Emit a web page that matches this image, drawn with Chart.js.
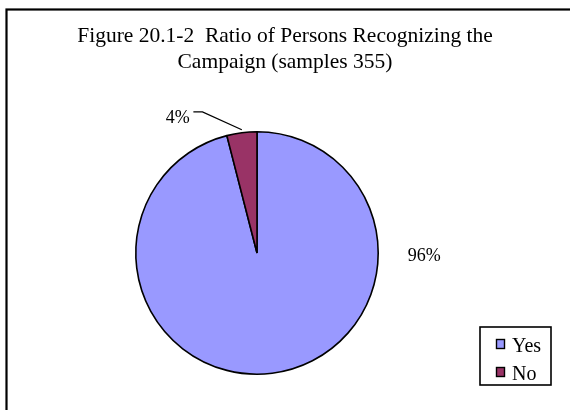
<!DOCTYPE html>
<html>
<head>
<meta charset="utf-8">
<script src="https://cdn.jsdelivr.net/npm/chart.js@4.4.1/dist/chart.umd.min.js"></script>
<style>
    html, body { margin: 0; padding: 0; background: #fff; }
    #wrap { width: 570px; height: 410px; position: relative; }
</style>
</head>
<body>
<div id="wrap"><canvas id="chartRecognize"></canvas></div>
<script>
const titleLines = ["Figure 20.1-2  Ratio of Persons Recognizing the", "Campaign (samples 355)"];
const categories = ["Yes", "No"];
const shares = [96, 4];
const sliceColors = ["#9999FF", "#993366"];

const serif = "'Liberation Serif', 'Times New Roman', serif";

// frame, title, labels and legend drawn like the Excel original
const decorations = {
    id: "decorations",
    beforeDraw(chart) {
        const ctx = chart.ctx;
        ctx.save();
        ctx.fillStyle = "#fff";
        ctx.fillRect(0, 0, chart.width, chart.height);
        ctx.strokeStyle = "#000";
        ctx.lineWidth = 2.2;
        ctx.strokeRect(6.5, 9.5, chart.width + 10, chart.height + 10);
        ctx.restore();
    },
    afterDraw(chart) {
        const ctx = chart.ctx;
        const arcs = chart.getDatasetMeta(0).data;
        const cx = arcs[0].x, cy = arcs[0].y, r = arcs[0].outerRadius;
        ctx.save();
        ctx.fillStyle = "#000";
        ctx.textAlign = "center";
        ctx.textBaseline = "alphabetic";
        ctx.font = "21.5px " + serif;
        ctx.fillText(titleLines[0], chart.width / 2, 42);
        ctx.fillText(titleLines[1], chart.width / 2, 68);

        // data labels
        ctx.font = "18px " + serif;
        ctx.textBaseline = "middle";
        ctx.fillText(shares[0] + "%", cx + 1.38 * r, cy + 0.03 * r);
        ctx.textAlign = "right";
        ctx.fillText(shares[1] + "%", cx - 0.555 * r, cy - 1.11 * r);
        // leader line to the small slice
        const mid = (arcs[1].startAngle + arcs[1].endAngle) / 2;
        ctx.strokeStyle = "#000";
        ctx.lineWidth = 1.3;
        ctx.beginPath();
        ctx.moveTo(cx - 0.525 * r, cy - 1.165 * r);
        ctx.lineTo(cx - 0.45 * r, cy - 1.165 * r);
        ctx.lineTo(cx + Math.cos(mid) * r, cy + Math.sin(mid) * r - 3);
        ctx.stroke();

        // legend
        const lx = 480, ly = 327, lw = 71, lh = 58;
        ctx.lineWidth = 1.6;
        ctx.strokeRect(lx, ly, lw, lh);
        ctx.font = "20px " + serif;
        ctx.textAlign = "left";
        ctx.textBaseline = "middle";
        categories.forEach((name, i) => {
            const y = ly + 17 + i * 28;
            ctx.fillStyle = sliceColors[i];
            ctx.fillRect(lx + 16.5, y - 4.5, 8, 9);
            ctx.strokeStyle = "#000";
            ctx.lineWidth = 1.4;
            ctx.strokeRect(lx + 16.5, y - 4.5, 8, 9);
            ctx.fillStyle = "#000";
            ctx.fillText(name, lx + 32, y + 3);
        });
        ctx.restore();
    }
};

new Chart(document.getElementById("chartRecognize"), {
    type: "pie",
    data: {
        labels: categories,
        datasets: [{
            data: shares,
            backgroundColor: sliceColors,
            borderColor: "#000",
            borderWidth: 1.6,
            borderAlign: "center"
        }]
    },
    options: {
        responsive: true,
        maintainAspectRatio: false,
        animation: false,
        layout: {
            padding: { left: 135, right: 191, top: 131, bottom: 35 }
        },
        plugins: {
            legend: { display: false },
            tooltip: { enabled: false }
        }
    },
    plugins: [decorations]
});
</script>
</body>
</html>
